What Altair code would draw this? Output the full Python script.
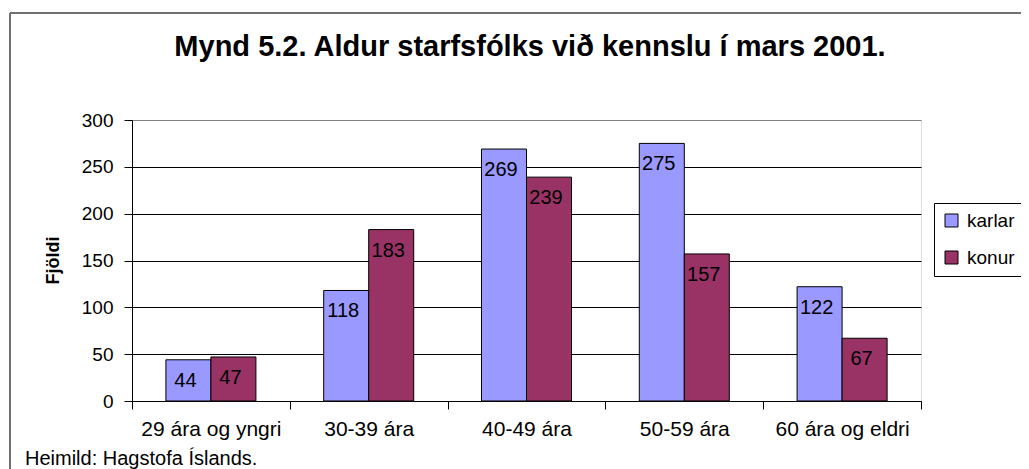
import altair as alt
import pandas as pd

categories = ["29 ára og yngri", "30-39 ára", "40-49 ára", "50-59 ára", "60 ára og eldri"]
karlar = [44, 118, 269, 275, 122]
konur = [47, 183, 239, 157, 67]
series = ["karlar", "konur"]
colors = ["#9999FF", "#993366"]
y_ticks = [0, 50, 100, 150, 200, 250, 300]
title_text = "Mynd 5.2. Aldur starfsfólks við kennslu í mars 2001."
source_text = "Heimild: Hagstofa Íslands."
y_title = "Fjöldi"

rows = []
for i, c in enumerate(categories):
    rows.append({"cat": c, "kyn": "karlar", "fjoldi": karlar[i]})
    rows.append({"cat": c, "kyn": "konur", "fjoldi": konur[i]})
df = pd.DataFrame(rows)

FONT = "Liberation Sans"

x = alt.X(
    "cat:N", sort=categories,
    scale=alt.Scale(paddingInner=0, paddingOuter=0),
    axis=alt.Axis(title=None, tickBand="extent", labelAngle=0, labelFontSize=21,
                  labelFont=FONT, labelColor="black", labelPadding=9, tickSize=8,
                  tickColor="black", domainColor="black", grid=False),
)
xo = alt.XOffset("kyn:N", sort=series, scale=alt.Scale(paddingInner=0, paddingOuter=0.753))
y = alt.Y(
    "fjoldi:Q",
    scale=alt.Scale(domain=[0, 300], nice=False),
    axis=alt.Axis(values=y_ticks, title=y_title, titleFont=FONT, titleFontSize=18,
                  titleFontWeight="bold", titleColor="black", titleX=-74, titleY=140,
                  titleAngle=-90, titleBaseline="alphabetic", titleAlign="center",
                  labelFont=FONT, labelFontSize=19, labelColor="black", labelPadding=11,
                  tickSize=8, tickColor="black", domainColor="black",
                  grid=True, gridWidth=1,
                  gridColor={"condition": {"test": "datum.value === 300", "value": "#808080"},
                             "value": "black"}),
)

bars = alt.Chart(df).mark_bar(stroke="black", strokeWidth=1).encode(
    x=x, xOffset=xo, y=y,
    color=alt.Color("kyn:N", sort=series, scale=alt.Scale(domain=series, range=colors),
                    legend=alt.Legend(orient="none", legendX=802, legendY=83, title=None,
                                      strokeColor="black", fillColor="white", padding=8,
                                      symbolType="square", symbolSize=169,
                                      symbolStrokeColor="black", symbolStrokeWidth=1,
                                      labelFont=FONT, labelFontSize=19, labelColor="black",
                                      rowPadding=17, labelOffset=6)),
)

labels = alt.Chart(df).mark_text(font=FONT, fontSize=20, color="black", dy=21, dx=-3,
                                 baseline="middle").encode(
    x=x, xOffset=xo, y=y, text="fjoldi:Q"
)

frame_df = pd.DataFrame({"a": [0]})
left_line = alt.Chart(frame_df).mark_rule(color="#707070", strokeWidth=2).encode(
    x=alt.value(-122), y=alt.value(-107), y2=alt.value(360)
)
top_line = alt.Chart(frame_df).mark_rule(color="#707070", strokeWidth=2).encode(
    x=alt.value(-122), x2=alt.value(905), y=alt.value(-107)
)

title = alt.Chart(pd.DataFrame({"t": [title_text]})).mark_text(
    font=FONT, fontSize=29, fontWeight="bold", color="black", align="center",
    baseline="alphabetic"
).encode(x=alt.value(398), y=alt.value(-64), text="t:N")

source = alt.Chart(pd.DataFrame({"t": [source_text]})).mark_text(
    font=FONT, fontSize=20, color="black", align="left", baseline="alphabetic"
).encode(x=alt.value(-107), y=alt.value(345), text="t:N")

chart = alt.layer(bars, labels, left_line, top_line, title, source).properties(
    width=789, height=281,
    autosize=alt.AutoSizeParams(type="none"),
    padding={"left": 124, "top": 112, "right": 100, "bottom": 68},
).configure_view(fill="#C0C0C0", stroke="#808080", strokeWidth=1).configure(background="white")

chart.save("out.html", embed_options={"renderer": "svg", "actions": False})
